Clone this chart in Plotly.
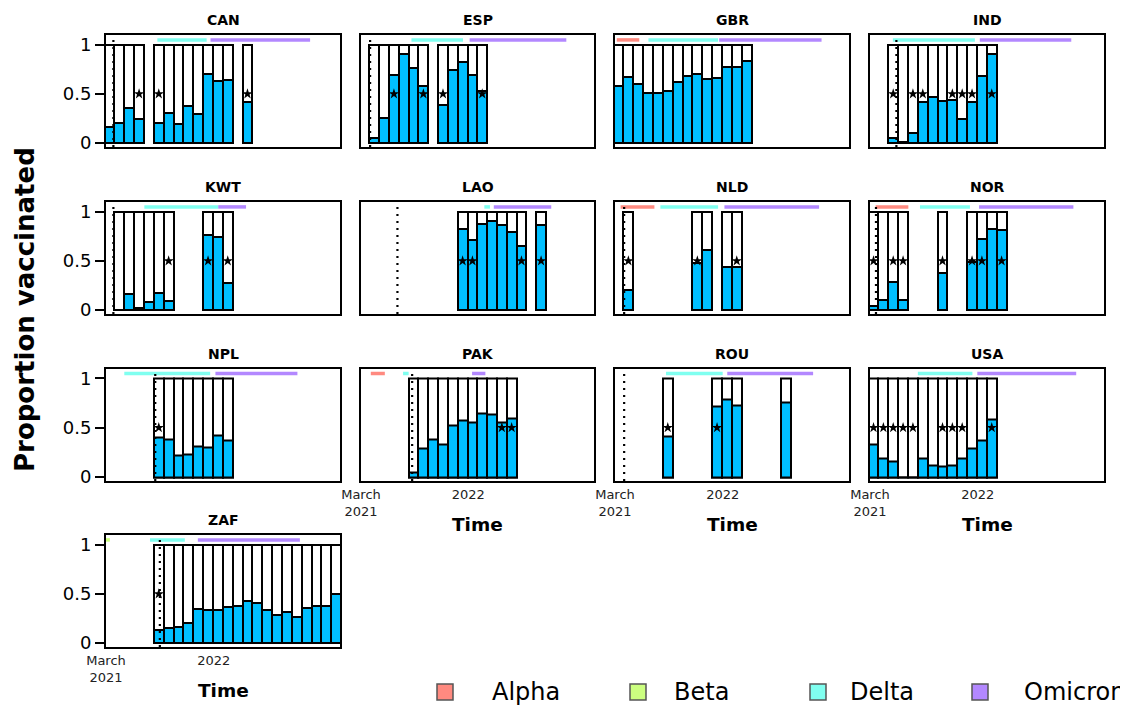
import datetime as dt
import plotly.graph_objects as go

# ---------------- data ----------------
COUNTRIES = ["CAN", "ESP", "GBR", "IND", "KWT", "LAO", "NLD", "NOR",
             "NPL", "PAK", "ROU", "USA", "ZAF"]

PERIOD_START = "2021-02-25"   # start of the first 4-week period
PERIOD_DAYS = 28

CAN_VAX = [0.16, 0.20, 0.36, 0.25, None, 0.20, 0.31, 0.19, 0.38, 0.30, 0.70, 0.63, 0.64, None, 0.42]
ESP_VAX = [None, 0.05, 0.26, 0.69, 0.91, 0.76, 0.585, None, 0.39, 0.745, 0.83, 0.69, 0.53]
GBR_VAX = [0.58, 0.67, 0.60, 0.505, 0.51, 0.525, 0.62, 0.684, 0.70, 0.655, 0.66, 0.775, 0.775, 0.84]
IND_VAX = [None, None, 0.048, 0.01, 0.105, 0.42, 0.47, 0.43, 0.44, 0.24, 0.42, 0.68, 0.905]
KWT_VAX = [None, 0.0, 0.16, 0.025, 0.085, 0.17, 0.095, None, None, None, 0.76, 0.745, 0.28]
LAO_VAX = [None, None, None, None, None, None, None, None, None, None,
           0.83, 0.71, 0.88, 0.91, 0.87, 0.79, 0.65, None, 0.87]
NLD_VAX = [None, 0.20, None, None, None, None, None, None, 0.48, 0.61, None, 0.44, 0.44]
NOR_VAX = [0.04, 0.105, 0.29, 0.105, None, None, None, 0.38, None, None, 0.485, 0.72, 0.83, 0.81]
NPL_VAX = [None, None, None, None, None, 0.40, 0.38, 0.22, 0.23, 0.31, 0.30, 0.42, 0.375]
PAK_VAX = [None, None, None, None, None, 0.05, 0.29, 0.38, 0.33, 0.52, 0.57, 0.55, 0.64, 0.63, 0.55, 0.59]
ROU_VAX = [None, None, None, None, None, 0.41, None, None, None, None, 0.72, 0.79, 0.73,
           None, None, None, None, 0.76]
USA_VAX = [0.33, 0.19, 0.16, 0.0, 0.0, 0.19, 0.12, 0.11, 0.115, 0.19, 0.29, 0.37, 0.58]
ZAF_VAX = [None, None, None, None, None, 0.13, 0.15, 0.16, 0.20, 0.345, 0.34, 0.335, 0.37, 0.38,
           0.43, 0.41, 0.34, 0.29, 0.32, 0.27, 0.36, 0.38, 0.38, 0.50]

# periods flagged with a star
CAN_STAR = [3, 5, 14]
ESP_STAR = [3, 6, 8, 12]
GBR_STAR = []
IND_STAR = [2, 4, 5, 8, 9, 10, 12]
KWT_STAR = [6, 10, 12]
LAO_STAR = [10, 11, 16, 18]
NLD_STAR = [1, 8, 12]
NOR_STAR = [0, 2, 3, 7, 10, 11, 13]
NPL_STAR = [5]
PAK_STAR = [14, 15]
ROU_STAR = [5, 10]
USA_STAR = [0, 1, 2, 3, 4, 7, 8, 9, 12]
ZAF_STAR = [5]

# dotted reference dates
DOTTED_DATE = {"CAN": "2021-03-22", "ESP": "2021-03-27", "GBR": None, "IND": "2021-05-15",
               "KWT": "2021-03-22", "LAO": "2021-06-13", "NLD": "2021-03-27", "NOR": "2021-03-18",
               "NPL": "2021-07-19", "PAK": "2021-07-25", "ROU": "2021-03-27", "USA": None,
               "ZAF": "2021-08-01"}

# variant dominance periods (variant, start, end)
CAN_VAR = [("Delta", "2021-07-25", "2021-12-12"), ("Omicron", "2021-12-23", "2022-10-02")]
ESP_VAR = [("Delta", "2021-07-23", "2021-12-17"), ("Omicron", "2022-01-05", "2022-10-08")]
GBR_VAR = [("Alpha", "2021-03-06", "2021-05-09"), ("Delta", "2021-06-04", "2021-12-19"),
           ("Omicron", "2021-12-22", "2022-10-09")]
IND_VAR = [("Delta", "2021-05-05", "2021-12-24"), ("Omicron", "2022-01-07", "2022-09-24")]
KWT_VAR = [("Delta", "2021-06-18", "2022-01-14"), ("Omicron", "2022-01-14", "2022-04-03")]
LAO_VAR = [("Delta", "2022-02-16", "2022-03-04"), ("Omicron", "2022-03-15", "2022-08-26")]
NLD_VAR = [("Alpha", "2021-03-17", "2021-06-21"), ("Delta", "2021-07-08", "2021-12-19"),
           ("Omicron", "2022-01-06", "2022-10-02")]
NOR_VAR = [("Alpha", "2021-03-17", "2021-06-18"), ("Delta", "2021-07-21", "2021-12-10"),
           ("Omicron", "2022-01-05", "2022-09-30")]
NPL_VAR = [("Delta", "2021-04-22", "2021-12-22"), ("Omicron", "2022-01-06", "2022-08-27")]
PAK_VAR = [("Alpha", "2021-03-29", "2021-05-08"), ("Delta", "2021-06-29", "2021-07-15"),
           ("Omicron", "2022-01-12", "2022-02-19")]
ROU_VAR = [("Delta", "2021-07-24", "2022-01-01"), ("Omicron", "2022-01-14", "2022-09-15")]
USA_VAR = [("Delta", "2021-07-15", "2021-12-17"), ("Omicron", "2021-12-31", "2022-10-08")]
ZAF_VAR = [("Beta", "2021-03-01", "2021-03-12"), ("Delta", "2021-07-04", "2021-10-11"),
           ("Omicron", "2021-11-17", "2022-09-03")]

VARIANTS = ["Alpha", "Beta", "Delta", "Omicron"]
VARIANT_COLORS = {"Alpha": "#ff8a80", "Beta": "#ccff80", "Delta": "#80fff0", "Omicron": "#b388ff"}

VAX = {"CAN": CAN_VAX, "ESP": ESP_VAX, "GBR": GBR_VAX, "IND": IND_VAX, "KWT": KWT_VAX,
       "LAO": LAO_VAX, "NLD": NLD_VAX, "NOR": NOR_VAX, "NPL": NPL_VAX, "PAK": PAK_VAX,
       "ROU": ROU_VAX, "USA": USA_VAX, "ZAF": ZAF_VAX}
STARS = {"CAN": CAN_STAR, "ESP": ESP_STAR, "GBR": GBR_STAR, "IND": IND_STAR, "KWT": KWT_STAR,
         "LAO": LAO_STAR, "NLD": NLD_STAR, "NOR": NOR_STAR, "NPL": NPL_STAR, "PAK": PAK_STAR,
         "ROU": ROU_STAR, "USA": USA_STAR, "ZAF": ZAF_STAR}
VARS = {"CAN": CAN_VAR, "ESP": ESP_VAR, "GBR": GBR_VAR, "IND": IND_VAR, "KWT": KWT_VAR,
        "LAO": LAO_VAR, "NLD": NLD_VAR, "NOR": NOR_VAR, "NPL": NPL_VAR, "PAK": PAK_VAR,
        "ROU": ROU_VAR, "USA": USA_VAR, "ZAF": ZAF_VAR}

X_RANGE = ["2021-03-01", "2022-12-26"]
X_TICKS = ["2021-03-01", "2022-01-01"]
X_TICKTEXT = ["March<br>2021", "2022"]

# ---------------- layout constants (pixels, screen coordinates) ----------------
W, H = 1128, 708
OFF = 8   # page offset of the plot div inside the browser window
COL_X = [(106, 340), (361, 594), (615, 849), (870, 1104)]
ROW_Y = [(35, 147), (202, 314), (368.5, 481), (535, 647)]
BOTTOM_PANELS = {"ZAF", "PAK", "ROU", "USA"}
FONT = "DejaVu Sans"
BLUE = "#00BFFF"
VAR_Y = 1.05
Y_RANGE = [-0.04, 1.1]


def px(x):
    return (x - OFF) / W


def py(y):
    return 1 - (y - OFF) / H


base = dt.datetime.fromisoformat(PERIOD_START)


def center(k):
    return base + dt.timedelta(days=PERIOD_DAYS * k + PERIOD_DAYS / 2)


bar_width_ms = PERIOD_DAYS * 86400000

fig = go.Figure()
annotations = []
shapes = []

for i, c in enumerate(COUNTRIES):
    r, col = divmod(i, 4)
    sfx = "" if i == 0 else str(i + 1)
    xa, ya = "x" + sfx, "y" + sfx
    vals = VAX[c]
    ks = [k for k, v in enumerate(vals) if v is not None]
    xs = [center(k) for k in ks]
    fig.add_trace(go.Bar(x=xs, y=[1] * len(ks), width=[bar_width_ms] * len(ks),
                         marker=dict(color="white", line=dict(color="black", width=2)),
                         xaxis=xa, yaxis=ya, showlegend=False, hoverinfo="skip"))
    fig.add_trace(go.Bar(x=xs, y=[vals[k] for k in ks], width=[bar_width_ms] * len(ks),
                         marker=dict(color=BLUE, line=dict(color="black", width=2)),
                         xaxis=xa, yaxis=ya, showlegend=False))
    for name, s, e in VARS[c]:
        fig.add_trace(go.Scatter(x=[s, e], y=[VAR_Y, VAR_Y], mode="lines",
                                 line=dict(color=VARIANT_COLORS[name], width=3.5),
                                 xaxis=xa, yaxis=ya, showlegend=False, hoverinfo="skip"))
    d = DOTTED_DATE[c]
    if d is not None:
        fig.add_trace(go.Scatter(x=[d, d], y=[Y_RANGE[0], VAR_Y], mode="lines",
                                 line=dict(color="black", width=2.2, dash="2px,5px"),
                                 xaxis=xa, yaxis=ya, showlegend=False, hoverinfo="skip"))
    st = STARS[c]
    if st:
        fig.add_trace(go.Scatter(x=[center(k) for k in st], y=[0.5] * len(st), mode="markers",
                                 marker=dict(symbol="star", size=8, color="black",
                                             line=dict(width=0)),
                                 xaxis=xa, yaxis=ya, showlegend=False, hoverinfo="skip"))

    x0, x1 = COL_X[col]
    y0, y1 = ROW_Y[r]
    bottom = c in BOTTOM_PANELS
    fig.layout["xaxis" + sfx] = dict(
        domain=[px(x0), px(x1)], anchor=ya, type="date", range=X_RANGE,
        showline=True, mirror=True, linecolor="black", linewidth=2,
        showgrid=False, zeroline=False, ticks="", automargin=False,
        tickvals=X_TICKS if bottom else [], ticktext=X_TICKTEXT if bottom else [],
        showticklabels=bottom, tickfont=dict(family=FONT, size=13, color="#222"),
        fixedrange=True)
    fig.layout["yaxis" + sfx] = dict(
        domain=[py(y1), py(y0)], anchor=xa, range=Y_RANGE,
        showline=True, mirror=True, linecolor="black", linewidth=2,
        showgrid=False, zeroline=False, automargin=False,
        tickvals=[0, 0.5, 1], ticktext=["0", "0.5", "1"],
        ticks="outside" if col == 0 else "", ticklen=9, tickwidth=1.5, tickcolor="black",
        showticklabels=(col == 0), tickfont=dict(family=FONT, size=18, color="black"),
        fixedrange=True)
    annotations.append(dict(text="<b>%s</b>" % c, x=px((x0 + x1) / 2), y=py(y0 - 15),
                            xref="paper", yref="paper", showarrow=False,
                            font=dict(family=FONT, size=14, color="black"),
                            xanchor="center", yanchor="middle"))
    if bottom:
        ty = 690 if c == "ZAF" else 524
        annotations.append(dict(text="<b>Time</b>", x=px((x0 + x1) / 2), y=py(ty),
                                xref="paper", yref="paper", showarrow=False,
                                font=dict(family=FONT, size=18.5, color="black"),
                                xanchor="center", yanchor="middle"))

annotations.append(dict(text="<b>Proportion vaccinated</b>", x=px(25), y=py(310),
                        xref="paper", yref="paper", showarrow=False, textangle=-90,
                        font=dict(family=FONT, size=26, color="black"),
                        xanchor="center", yanchor="middle"))

LEG_KEY_X = [445, 638, 818, 980]
LEG_TEXT_X = [490, 672, 848, 1022]
LEG_Y = 692
for name, kx, tx in zip(VARIANTS, LEG_KEY_X, LEG_TEXT_X):
    shapes.append(dict(type="rect", xref="paper", yref="paper",
                       x0=px(kx - 8), x1=px(kx + 8), y0=py(LEG_Y + 8), y1=py(LEG_Y - 8),
                       fillcolor=VARIANT_COLORS[name], line=dict(color="#555", width=1.5)))
    annotations.append(dict(text=name, x=px(tx), y=py(LEG_Y), xref="paper", yref="paper",
                            showarrow=False, xanchor="left", yanchor="middle",
                            font=dict(family=FONT, size=24, color="black")))

fig.update_layout(template="none", width=W, height=H, autosize=False,
                  margin=dict(l=0, r=0, t=0, b=0, pad=0),
                  paper_bgcolor="white", plot_bgcolor="white",
                  barmode="overlay", bargap=0,
                  annotations=annotations, shapes=shapes,
                  font=dict(family=FONT, color="black"))

fig.write_html("out.html")
